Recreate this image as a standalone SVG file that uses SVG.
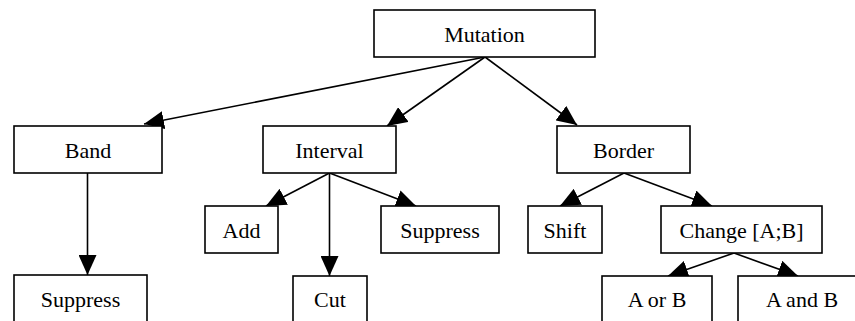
<svg xmlns="http://www.w3.org/2000/svg" width="855" height="321" viewBox="0 0 855 321">
<style>
rect{fill:#fff;stroke:#000;stroke-width:1.6}
text{font-family:"Liberation Serif","Times New Roman",serif;font-size:22px;fill:#000;text-anchor:middle}
.c line{stroke:#000;stroke-width:1.6;marker-end:url(#ah)}
</style>
<defs>
<marker id="ah" markerUnits="userSpaceOnUse" markerWidth="20" markerHeight="18" refX="20" refY="9" orient="auto"><path d="M0,0 L20,9 L0,18 z" fill="#000"/></marker>
</defs>
<rect x="0" y="0" width="855" height="321" style="stroke:none"/>
<g class="c" id="connectors">
<line x1="485" y1="57" x2="144" y2="124"/>
<line x1="485" y1="57" x2="387" y2="126"/>
<line x1="485" y1="57" x2="577" y2="125"/>
<line x1="87.5" y1="173" x2="87.5" y2="275"/>
<line x1="329.5" y1="173" x2="266" y2="206"/>
<line x1="329.5" y1="173" x2="329.5" y2="276"/>
<line x1="329.5" y1="173" x2="416" y2="206"/>
<line x1="624" y1="173" x2="560" y2="206"/>
<line x1="624" y1="173" x2="712" y2="206"/>
<line x1="734" y1="253" x2="668" y2="276"/>
<line x1="734" y1="253" x2="798" y2="276"/>
</g>
<g id="mutation"><rect x="374" y="10" width="221" height="47"/><text x="484.5" y="41.5">Mutation</text></g>
<g id="band"><rect x="14" y="126" width="148" height="47"/><text x="88" y="157.5">Band</text></g>
<g id="interval"><rect x="263" y="126" width="133" height="47"/><text x="329.5" y="157.5">Interval</text></g>
<g id="border"><rect x="557" y="126" width="133" height="47"/><text x="623.5" y="157.5">Border</text></g>
<g id="add"><rect x="205" y="206" width="73" height="47"/><text x="241.5" y="237.5">Add</text></g>
<g id="suppress2"><rect x="381" y="206" width="118" height="47"/><text x="440" y="237.5">Suppress</text></g>
<g id="shift"><rect x="528" y="206" width="74" height="47"/><text x="565" y="237.5">Shift</text></g>
<g id="change"><rect x="661" y="206" width="161" height="47"/><text x="741.5" y="237.5">Change [A;B]</text></g>
<g id="suppress1"><rect x="14" y="275" width="133" height="60"/><text x="80.5" y="306.5">Suppress</text></g>
<g id="cut"><rect x="293" y="276" width="74" height="60"/><text x="330" y="307">Cut</text></g>
<g id="aorb"><rect x="602" y="276" width="110" height="60"/><text x="657" y="307">A or B</text></g>
<g id="aandb"><rect x="738" y="276" width="128" height="60"/><text x="802" y="307">A and B</text></g>
</svg>
